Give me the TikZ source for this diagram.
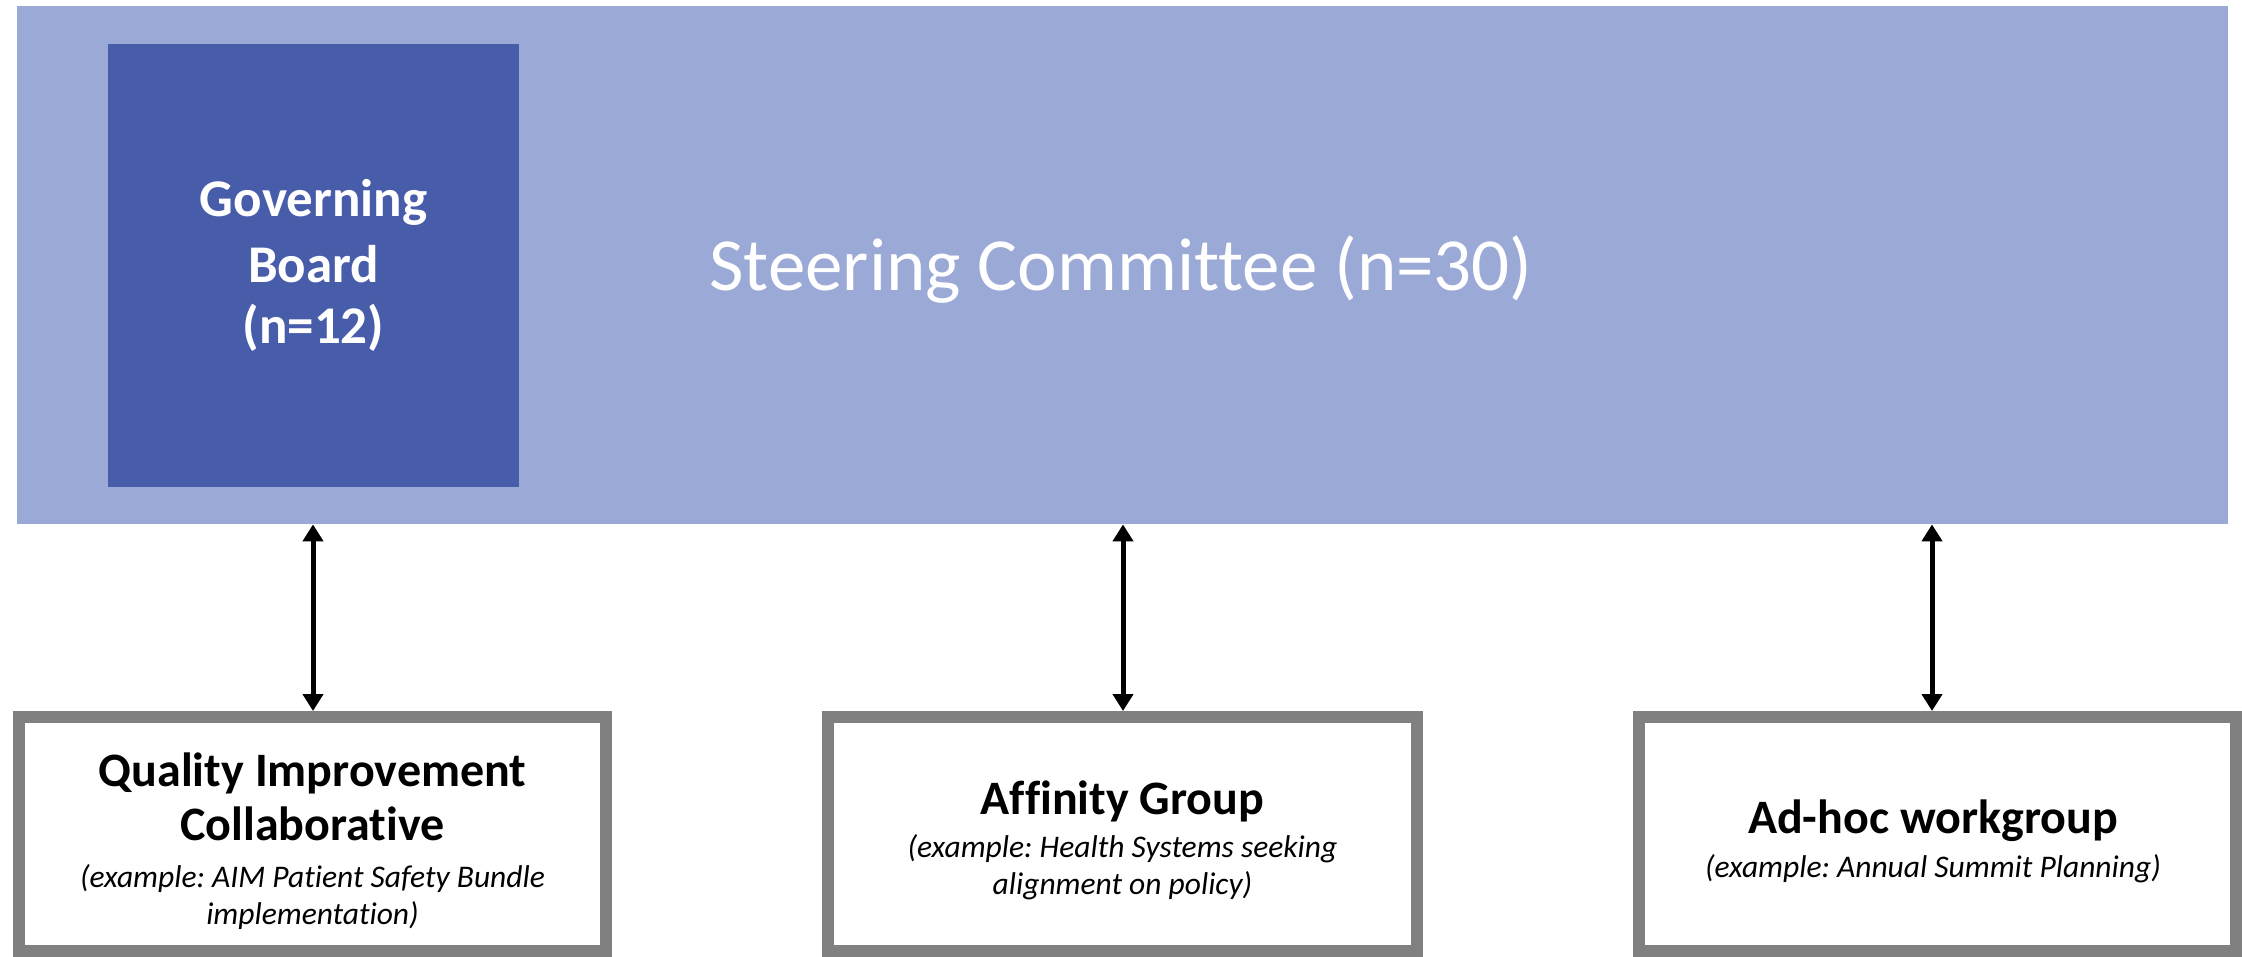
\documentclass[tikz,border=0pt]{standalone}
\usepackage{fontspec}
\setmainfont{Carlito}[Ligatures=NoCommon]
\frenchspacing
\usetikzlibrary{arrows.meta}
\definecolor{sclight}{RGB}{155,169,214}
\definecolor{gbdark}{RGB}{71,93,170}
\definecolor{boxgray}{RGB}{128,128,128}
\tikzset{
  grp/.style={draw=boxgray, line width=12pt, fill=white, rectangle, inner sep=0pt, minimum height=234pt},
  head/.style={font=\fontsize{48}{54}\selectfont\bfseries, text=black, anchor=base, inner sep=0pt},
  sub/.style={font=\fontsize{31.5}{37}\selectfont\itshape, text=black, anchor=base, inner sep=0pt},
  gbline/.style={font=\fontsize{53}{62}\selectfont\bfseries, text=white, anchor=base, inner sep=0pt},
  link/.style={line width=5pt, {Triangle[width=20pt,length=17pt]}-{Triangle[width=20pt,length=17pt]}}
}
\begin{document}
\begin{tikzpicture}[x=1pt,y=-1pt]
\useasboundingbox (0,0) rectangle (2242,957);
% steering committee
\node[fill=sclight, rectangle, inner sep=0pt, minimum width=2211pt, minimum height=518pt, anchor=north west] (sc) at (17,6) {};
\node[text=white, font=\fontsize{75}{88}\selectfont, anchor=base, inner sep=0pt] (sctext) at (1121,291) {Steering Committee (n=30)};
% governing board
\node[fill=gbdark, rectangle, inner sep=0pt, minimum width=411pt, minimum height=443pt, anchor=north west] (gb) at (108,44) {};
\node[gbline] (gb1) at (313.5,217) {Governing};
\node[gbline] (gb2) at (313.5,283) {Board};
\node[gbline] (gb3) at (313.5,344) {(n=12)};
% bottom groups
\node[grp, minimum width=587pt] (qi) at (312.5,834) {};
\node[grp, minimum width=589pt] (ag) at (1122.5,834) {};
\node[grp, minimum width=597pt] (ah) at (1937.5,834) {};
\node[head] (qi1) at (312.5,786) {Quality Improvement};
\node[head] (qi2) at (312.5,840) {Collaborative};
\node[sub] (qi3) at (312.5,887) {(example: AIM Patient Safety Bundle};
\node[sub] (qi4) at (312.5,924) {implementation)};
\node[head] (ag1) at (1122.5,814) {Affinity Group};
\node[sub] (ag2) at (1122.5,857) {(example: Health Systems seeking};
\node[sub] (ag3) at (1122.5,894) {alignment on policy)};
\node[head] (ah1) at (1933,833) {Ad-hoc workgroup};
\node[sub] (ah2) at (1933,877) {(example: Annual Summit Planning)};
% connectors
\coordinate (x1) at (313,0);
\coordinate (x2) at (1123,0);
\coordinate (x3) at (1932,0);
\draw[link] (x1 |- qi.north) -- (x1 |- sc.south);
\draw[link] (x2 |- ag.north) -- (x2 |- sc.south);
\draw[link] (x3 |- ah.north) -- (x3 |- sc.south);
\end{tikzpicture}
\end{document}
